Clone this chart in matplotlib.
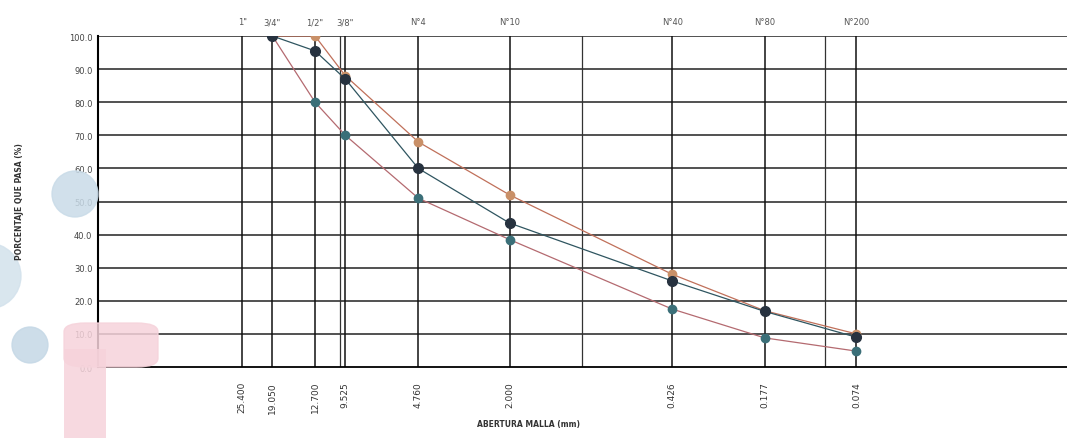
import matplotlib.pyplot as plt
from matplotlib.patches import Ellipse, FancyBboxPatch, Rectangle

# tamices
mallas = ['1"', '3/4"', '1/2"', '3/8"', 'N°4', 'N°10', 'N°40', 'N°80', 'N°200']
abertura = [25.4, 19.05, 12.7, 9.525, 4.76, 2.0, 0.426, 0.177, 0.074]

# curvas (desde 3/4")
ab_curva = [19.05, 12.7, 9.525, 4.76, 2.0, 0.426, 0.177, 0.074]
muestra = [100.0, 95.5, 87.0, 60.0, 43.5, 26.0, 16.8, 9.0]
lim_sup = [100.0, 100.0, 88.0, 68.0, 52.0, 28.0, 17.0, 10.0]
lim_inf = [100.0, 80.0, 70.0, 51.0, 38.5, 17.5, 8.8, 4.8]

W, H = 1067, 439
fig = plt.figure(figsize=(W / 100, H / 100), dpi=100)


def mancha(x, y, r, color):
    # circulo en pixeles (marca de agua del fondo)
    fig.patches.append(Ellipse((x / W, 1 - y / H), 2 * r / W, 2 * r / H,
                               transform=fig.transFigure, color=color,
                               alpha=0.85, zorder=0))


mancha(75, 195, 23, '#c9dbe8')
mancha(30, 346, 18, '#c5d8e6')
mancha(-12, 277, 33, '#d3e2ec')
fig.patches.append(FancyBboxPatch((64 / W, 1 - 368 / H), 94 / W, 44 / H,
                                  transform=fig.transFigure,
                                  boxstyle='round,pad=0.0,rounding_size=0.02',
                                  color='#f6d3db', alpha=0.85, zorder=0))
fig.patches.append(Rectangle((64 / W, 0), 42 / W, 1 - 350 / H,
                             transform=fig.transFigure, color='#f6d3db',
                             alpha=0.85, zorder=0, lw=0))

ax = fig.add_axes([0.0918, 0.1617, 0.9082, 0.754])
ax.patch.set_alpha(0)
ax.set_xscale('log')
ax.set_xlim(100, 0.01)
ax.set_ylim(0, 100)

# rejilla
for y in range(10, 101, 10):
    ax.axhline(y, color='#222222', lw=1.1, zorder=1)
for x in [10, 1, 0.1]:
    ax.axvline(x, color='#333333', lw=0.9, zorder=1)
for x in abertura:
    ax.axvline(x, color='#111111', lw=1.1, zorder=1)

ax.plot(ab_curva, lim_sup, color='#c0705a', lw=0.9, marker='o', ms=6,
        mfc='#c99068', mec='#c99068', zorder=3)
ax.plot(ab_curva, muestra, color='#2f5560', lw=0.9, marker='o', ms=7,
        mfc='#27323f', mec='#27323f', zorder=4)
ax.plot(ab_curva, lim_inf, color='#b46a70', lw=0.9, marker='o', ms=6,
        mfc='#3b6f78', mec='#3b6f78', zorder=3)

ax.set_yticks(range(0, 101, 10))
ax.set_yticklabels([f'{v:.1f}' for v in range(0, 101, 10)], fontsize=6, color='#444444')
ax.set_xticks(abertura)
ax.set_xticklabels([f'{v:.3f}' for v in abertura], rotation=90, fontsize=6.5, color='#333333')
ax.minorticks_off()
ax.tick_params(axis='both', length=0, pad=4)
ax.tick_params(axis='x', pad=10)

for s in ['top', 'right']:
    ax.spines[s].set_visible(False)
ax.spines['left'].set_linewidth(1.5)
ax.spines['bottom'].set_linewidth(1.3)

ax2 = ax.twiny()
ax2.set_xscale('log')
ax2.set_xlim(100, 0.01)
ax2.set_xticks(abertura)
ax2.set_xticklabels(mallas, fontsize=6, color='#555555')
ax2.minorticks_off()
ax2.tick_params(axis='x', length=0, pad=7)
for s in ax2.spines.values():
    s.set_visible(False)

fig.text(0.018, 0.54, 'PORCENTAJE QUE PASA (%)', rotation=90, fontsize=5.5,
         fontweight='bold', color='#333333', ha='center', va='center')
fig.text(0.495, 0.032, 'ABERTURA MALLA (mm)', fontsize=5.5, fontweight='bold',
         color='#333333', ha='center', va='center')

fig.savefig('out.png', dpi=100)
